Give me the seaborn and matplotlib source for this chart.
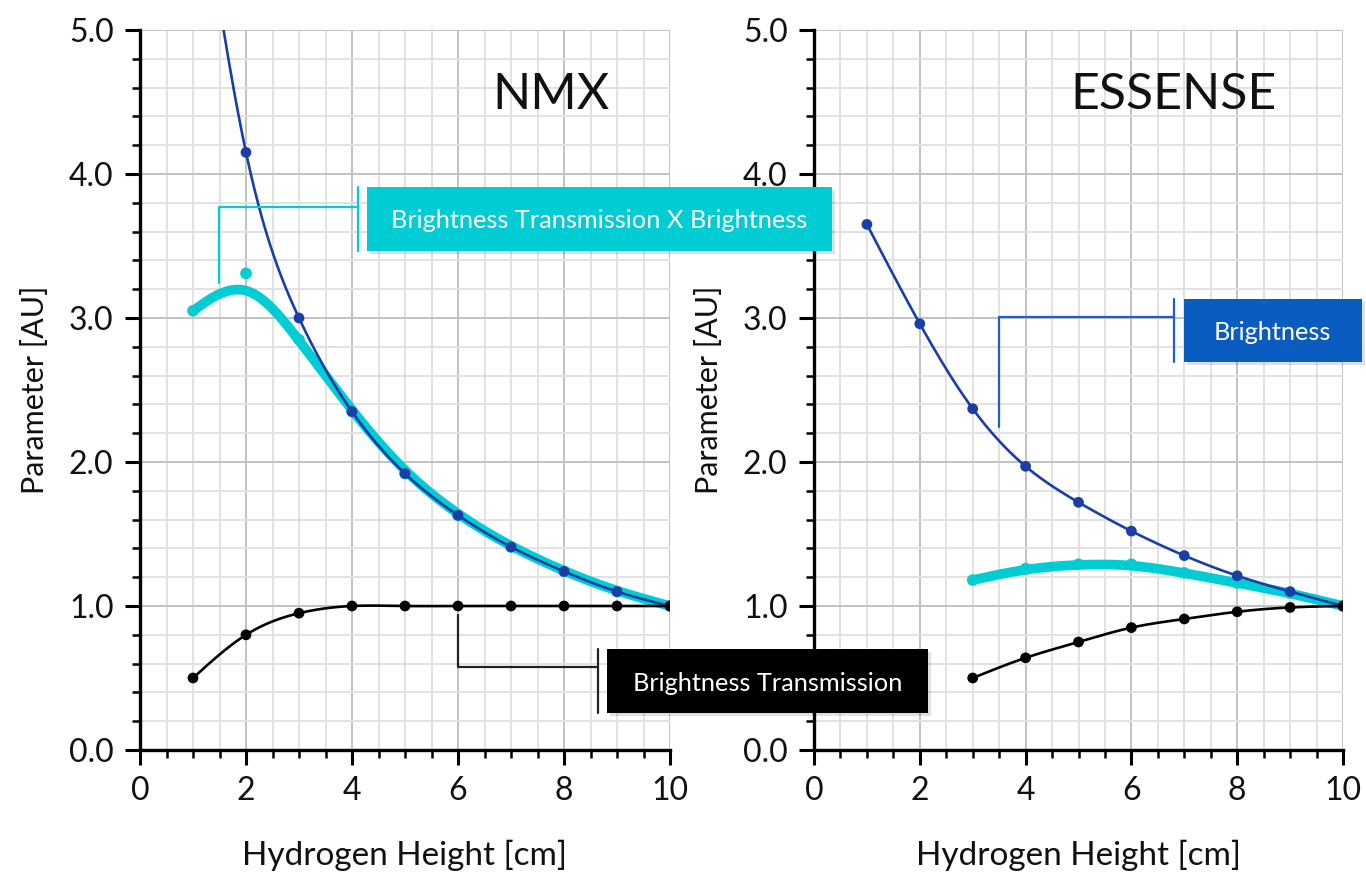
import numpy as np
import pandas as pd
import matplotlib
matplotlib.use("Agg")
import matplotlib.pyplot as plt
from matplotlib.lines import Line2D
from matplotlib.patches import Rectangle
from matplotlib.ticker import MultipleLocator, FormatStrFormatter
import seaborn as sns

# ---- data -------------------------------------------------------------
height_nmx = [1, 2, 3, 4, 5, 6, 7, 8, 9, 10]
brightness_nmx = [6.40, 4.15, 3.00, 2.35, 1.92, 1.63, 1.41, 1.24, 1.10, 1.00]
transmission_nmx = [0.50, 0.80, 0.95, 1.00, 1.00, 1.00, 1.00, 1.00, 1.00, 1.00]
product_nmx = [3.05, 3.31, 2.85, 2.35, 1.92, 1.63, 1.41, 1.24, 1.10, 1.00]

height_essense = [1, 2, 3, 4, 5, 6, 7, 8, 9, 10]
brightness_essense = [3.65, 2.96, 2.37, 1.97, 1.72, 1.52, 1.35, 1.21, 1.10, 1.00]
height_essense_t = [3, 4, 5, 6, 7, 8, 9, 10]
transmission_essense = [0.50, 0.64, 0.75, 0.85, 0.91, 0.96, 0.99, 1.00]
product_essense = [1.18, 1.26, 1.29, 1.29, 1.23, 1.16, 1.09, 1.00]

panel_titles = ["NMX", "ESSENSE"]
x_label = "Hydrogen Height [cm]"
y_label = "Parameter [AU]"

# ---- style ------------------------------------------------------------
sns.set_theme(style="white")
plt.rcParams["font.family"] = ["Lato", "DejaVu Sans"]

W, H = 1366, 872
fig = plt.figure(figsize=(W / 100, H / 100), dpi=100)

BLUE = "#1b3ea6"
CYAN = "#00cdd3"
BLACK = "#000000"
BOX_BLUE = "#0a5cbf"
GRID_MINOR = "#e2e2e2"
GRID_MAJOR = "#c2c2c2"


def bspline(xs, ys, n=40):
    """Clamped uniform cubic B-spline using the points as control points."""
    p = np.column_stack([xs, ys]).astype(float)
    p = np.vstack([p[0], p[0], p, p[-1], p[-1]])
    t = np.linspace(0, 1, n, endpoint=False)
    b0 = (1 - t) ** 3 / 6
    b1 = (3 * t ** 3 - 6 * t ** 2 + 4) / 6
    b2 = (-3 * t ** 3 + 3 * t ** 2 + 3 * t + 1) / 6
    b3 = t ** 3 / 6
    segs = []
    for i in range(len(p) - 3):
        seg = (np.outer(b0, p[i]) + np.outer(b1, p[i + 1])
               + np.outer(b2, p[i + 2]) + np.outer(b3, p[i + 3]))
        segs.append(seg)
    segs.append(p[-1][None, :])
    out = np.vstack(segs)
    return pd.DataFrame({"x": out[:, 0], "y": out[:, 1]})


def natural_spline(xs, ys, n=40):
    """Natural cubic spline passing through every point."""
    x = np.asarray(xs, float)
    y = np.asarray(ys, float)
    m = len(x)
    h = np.diff(x)
    A = np.zeros((m, m))
    r = np.zeros(m)
    A[0, 0] = A[-1, -1] = 1
    for i in range(1, m - 1):
        A[i, i - 1] = h[i - 1]
        A[i, i] = 2 * (h[i - 1] + h[i])
        A[i, i + 1] = h[i]
        r[i] = 6 * ((y[i + 1] - y[i]) / h[i] - (y[i] - y[i - 1]) / h[i - 1])
    M = np.linalg.solve(A, r)
    px, py = [], []
    for i in range(m - 1):
        t = np.linspace(x[i], x[i + 1], n, endpoint=False)
        a = (x[i + 1] - t) / h[i]
        b = (t - x[i]) / h[i]
        s = (a * y[i] + b * y[i + 1]
             + ((a ** 3 - a) * M[i] + (b ** 3 - b) * M[i + 1]) * h[i] ** 2 / 6)
        px.append(t)
        py.append(s)
    px.append([x[-1]])
    py.append([y[-1]])
    return pd.DataFrame({"x": np.concatenate(px), "y": np.concatenate(py)})


def px_to_fig(px, py):
    return px / W, 1 - py / H


def style_axes(ax):
    ax.set_xlim(0, 10)
    ax.set_ylim(0, 5)
    ax.xaxis.set_major_locator(MultipleLocator(2))
    ax.xaxis.set_minor_locator(MultipleLocator(0.5))
    ax.yaxis.set_major_locator(MultipleLocator(1))
    ax.yaxis.set_minor_locator(MultipleLocator(0.2))
    ax.yaxis.set_major_formatter(FormatStrFormatter("%.1f"))
    ax.grid(which="minor", color=GRID_MINOR, lw=1.4, zorder=0)
    ax.grid(which="major", color=GRID_MAJOR, lw=1.4, zorder=0)
    ax.set_axisbelow(True)
    for s in ("top", "right"):
        ax.spines[s].set_visible(False)
    for s in ("left", "bottom"):
        ax.spines[s].set_color("black")
        ax.spines[s].set_linewidth(2.4)
    ax.tick_params(which="major", direction="out", length=11, width=2.2,
                   color="black", labelsize=23, labelcolor="#111111", pad=8,
                   left=True, bottom=True)
    ax.tick_params(which="minor", direction="out", length=6, width=1.8,
                   color="black", left=True, bottom=True)
    ax.set_xlabel(x_label, fontsize=24, labelpad=24, color="#111111")
    ax.set_ylabel(y_label, fontsize=22, labelpad=14, color="#111111")


def draw_series(ax, xs, ys, color, lw, ms, marker_z, line_z, curve):
    sns.lineplot(data=curve(xs, ys), x="x", y="y", sort=False,
                 estimator=None, color=color, lw=lw, ax=ax, zorder=line_z,
                 solid_capstyle="round")
    sns.scatterplot(x=xs, y=ys, color=color, s=ms, edgecolor="none",
                    ax=ax, zorder=marker_z, legend=False)


ax1 = fig.add_axes([140 / W, 1 - 750 / H, 530 / W, 720 / H])
ax2 = fig.add_axes([814 / W, 1 - 750 / H, 529 / W, 720 / H])

# NMX panel
draw_series(ax1, height_nmx, product_nmx, CYAN, 7, 70, 3, 3, bspline)
draw_series(ax1, height_nmx, brightness_nmx, BLUE, 1.9, 60, 5, 4, natural_spline)
draw_series(ax1, height_nmx, transmission_nmx, BLACK, 1.9, 60, 5, 4, natural_spline)

# ESSENSE panel
draw_series(ax2, height_essense_t, product_essense, CYAN, 7, 70, 3, 3, bspline)
draw_series(ax2, height_essense, brightness_essense, BLUE, 1.9, 60, 5, 4, natural_spline)
draw_series(ax2, height_essense_t, transmission_essense, BLACK, 1.9, 60, 5, 4, natural_spline)

for ax, title, tx in ((ax1, panel_titles[0], 7.75), (ax2, panel_titles[1], 6.8)):
    style_axes(ax)
    ax.text(tx, 4.55, title, ha="center", va="center", fontsize=36,
            color="#111111", zorder=6)


# ---- callout labels ---------------------------------------------------
def data_to_px(ax, x, y):
    fx, fy = fig.transFigure.inverted().transform(ax.transData.transform((x, y)))
    return fx * W, (1 - fy) * H


def callout(ax, anchor, level_py, bar_px, box, text, face, line_color,
            text_center):
    ax_px, ay_px = data_to_px(ax, *anchor)
    xs = [ax_px, ax_px, bar_px]
    ys = [ay_px, level_py, level_py]
    pts = [px_to_fig(x, y) for x, y in zip(xs, ys)]
    fig.lines.append(Line2D([p[0] for p in pts], [p[1] for p in pts],
                            transform=fig.transFigure, color=line_color,
                            lw=1.6, zorder=20))
    x0, y0, x1, y1 = box
    b0 = px_to_fig(bar_px, y0)
    b1 = px_to_fig(bar_px, y1)
    fig.lines.append(Line2D([b0[0], b1[0]], [b0[1], b1[1]],
                            transform=fig.transFigure, color=line_color,
                            lw=1.6, zorder=20))
    fx0, fy1 = px_to_fig(x0, y1)
    shadow = Rectangle((fx0 + 3 / W, fy1 - 3 / H), (x1 - x0) / W,
                       (y1 - y0) / H, transform=fig.transFigure,
                       facecolor="#000000", alpha=0.12, edgecolor="none",
                       zorder=20)
    fig.patches.append(shadow)
    rect = Rectangle((fx0, fy1), (x1 - x0) / W, (y1 - y0) / H,
                     transform=fig.transFigure, facecolor=face,
                     edgecolor="none", zorder=21)
    fig.patches.append(rect)
    cx, cy = px_to_fig(*text_center)
    fig.text(cx, cy, text, ha="center", va="center", color="white",
             fontsize=18.3, zorder=22)


callout(ax1, (1.49, 3.24), 206.5, 357.5, (366.5, 187, 832, 251),
        "Brightness Transmission X Brightness", CYAN, CYAN, (599.5, 221))
callout(ax1, (6.0, 0.94), 666.5, 598, (607, 648.5, 928, 713),
        "Brightness Transmission", BLACK, "#222222", (767.5, 683))
callout(ax2, (3.49, 2.24), 317, 1173.5, (1184, 299, 1362, 362.5),
        "Brightness", BOX_BLUE, "#1f5fc9", (1272.5, 333))

fig.savefig("out.png", dpi=100, facecolor="white")
